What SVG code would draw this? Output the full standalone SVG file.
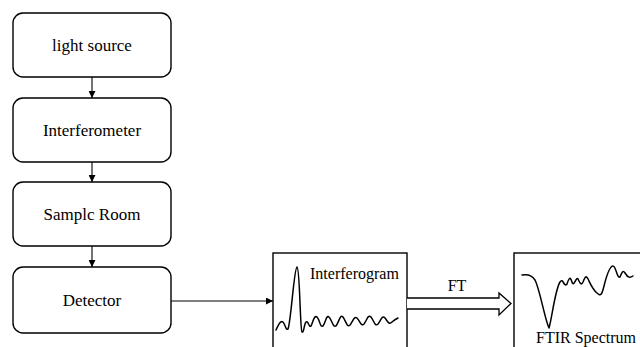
<svg xmlns="http://www.w3.org/2000/svg" width="640" height="347" viewBox="0 0 640 347">
<style>
.box{fill:#fff;stroke:#000;stroke-width:1.4}
text{font-family:"Liberation Serif","Times New Roman",serif;fill:#000}
.lbl{font-size:17px;text-anchor:middle}
.t16{font-size:16px}
.con{fill:none;stroke:#000;stroke-width:1.1}
.wave{fill:none;stroke:#000;stroke-width:1.5;stroke-linejoin:round;stroke-linecap:round}
</style>
<defs>
<marker id="ah" markerWidth="8" markerHeight="7" refX="7" refY="3.5" orient="auto" markerUnits="userSpaceOnUse">
<path d="M0,0 L7,3.5 L0,7 Z" fill="#000"/>
</marker>
</defs>
<rect width="640" height="347" fill="#fff"/>
<g id="n-light-source">
<rect class="box" x="13" y="13" width="158" height="64" rx="10"/>
<text class="lbl" x="92" y="51">light source</text>
</g>
<g id="n-interferometer">
<rect class="box" x="13" y="98" width="158" height="64" rx="10"/>
<text class="lbl" x="92" y="136">Interferometer</text>
</g>
<g id="n-sample-room">
<rect class="box" x="13" y="182" width="158" height="64" rx="10"/>
<text class="lbl" x="92" y="220">Samplc Room</text>
</g>
<g id="n-detector">
<rect class="box" x="13" y="267" width="158" height="66" rx="10"/>
<text class="lbl" x="92" y="306">Detector</text>
</g>
<g id="n-interferogram">
<rect class="box" x="273" y="253" width="134" height="110"/>
<text class="t16" x="310" y="279">Interferogram</text>
<path class="wave" d="M276,330 C278,326 280,320 283,322 C285,324 286,331 288,329 C291,322 294,268 297,267 C300,268 300,330 302,332 C304,333 304,324 306,322 C308,320 309,328 311,326 C313,322 314,315 317,317 C320,320 320,328 323,326 C326,322 326,315 329,317 C332,320 333,328 336,326 C339,322 340,314 343,317 C346,321 347,328 350,325 C353,321 354,316 357,318 C360,321 361,327 364,324 C367,320 368,314 371,317 C374,321 375,327 378,324 C381,320 382,315 385,318 C388,322 389,325 392,322 C394,320 396,319 398,318"/>
</g>
<g id="n-ftir-spectrum">
<rect class="box" x="514" y="253" width="140" height="110"/>
<path class="wave" d="M522,275 C528,274 532,275 535,280 C540,290 545,320 549,328 C552,318 555,290 560,282 C563,277 564,288 567,284 C569,278 570,276 572,282 C574,288 576,276 578,279 C580,283 581,286 583,282 C585,277 586,275 588,279 C591,285 593,290 597,293 C601,297 602,294 604,286 C607,274 610,266 613,266 C616,266 617,279 620,277 C622,272 623,270 625,273 C628,278 630,278 633,276"/>
<text class="t16" x="536" y="343">FTIR Spectrum</text>
</g>
<g id="connectors">
<line class="con" x1="92" y1="77" x2="92" y2="98" marker-end="url(#ah)"/>
<line class="con" x1="92" y1="162" x2="92" y2="182" marker-end="url(#ah)"/>
<line class="con" x1="92" y1="246" x2="92" y2="267" marker-end="url(#ah)"/>
<line class="con" x1="171" y1="301" x2="273" y2="301" marker-end="url(#ah)"/>
<path d="M407,298 L499,298 L499,293 L511,303.5 L499,315 L499,309 L407,309" fill="#fff" stroke="#000" stroke-width="1.3" stroke-linejoin="miter"/>
<text class="t16" x="457" y="291" text-anchor="middle">FT</text>
</g>
</svg>
